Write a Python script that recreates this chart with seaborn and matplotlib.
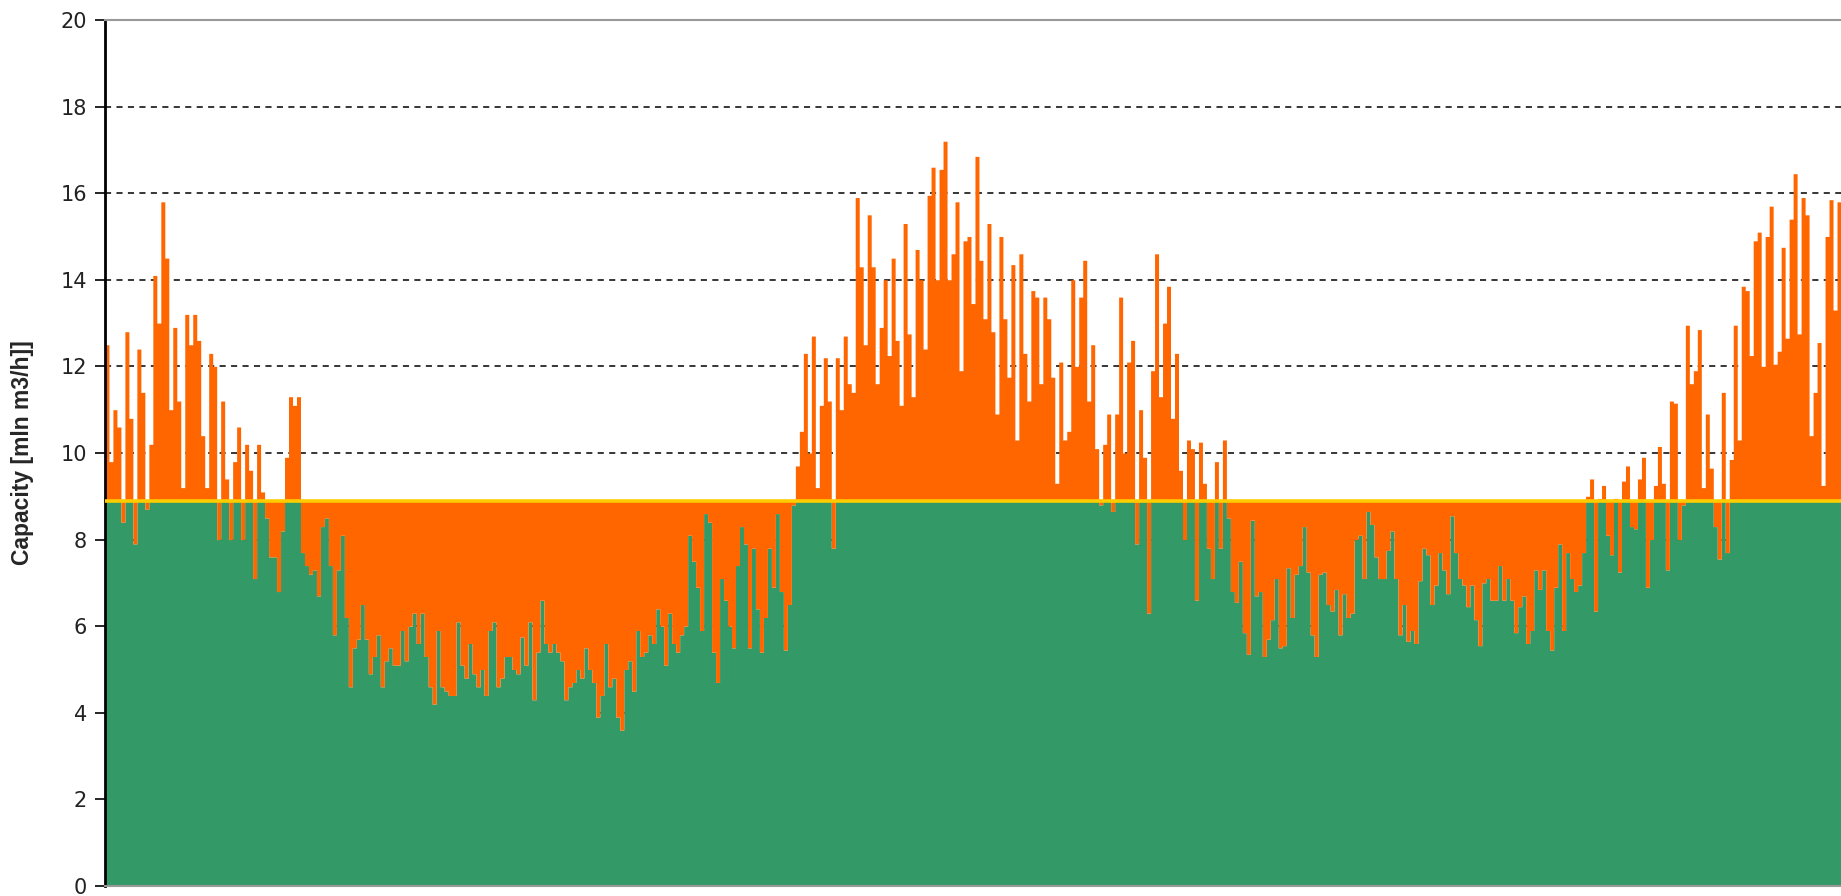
import numpy as np
import pandas as pd
import matplotlib
matplotlib.use("Agg")
import matplotlib.pyplot as plt
import seaborn as sns

# daily flow, in six stretches left to right
flow_part1 = [12.5, 9.8, 11.0, 10.6, 8.4, 12.8, 10.8, 7.9, 12.4, 11.4,
              8.7, 10.2, 14.1, 13.0, 15.8, 14.5, 11.0, 12.9, 11.2, 9.2,
              13.2, 12.5, 13.2, 12.6, 10.4, 9.2, 12.3, 12.0, 8.0, 11.2,
              9.4, 8.0, 9.8, 10.6, 8.0, 10.2, 9.6, 7.1, 10.2, 9.1,
              8.5, 7.6, 7.6, 6.8, 8.2, 9.9, 11.3, 11.1, 11.3, 7.7,
              7.4, 7.2, 7.3, 6.7, 8.3, 8.5, 7.4, 5.8, 7.3, 8.1,
              6.2, 4.6, 5.5, 5.7, 6.5, 5.7, 4.9, 5.3, 5.8, 4.6,
              5.2, 5.5, 5.1]
flow_part2 = [5.1, 5.9, 5.2, 6.0, 6.3, 5.6, 6.3, 5.3, 4.6, 4.2,
              5.9, 4.6, 4.5, 4.4, 4.4, 6.1, 5.1, 4.8, 5.6, 4.9,
              4.6, 5.0, 4.4, 5.9, 6.1, 4.6, 4.8, 5.3, 5.3, 5.0,
              4.9, 5.75, 5.1, 6.1, 4.3, 5.4, 6.6, 5.6, 5.4, 5.6,
              5.4, 5.2, 4.3, 4.6, 4.7, 5.0, 4.8, 5.5, 5.0, 4.7,
              3.9, 4.4, 5.6, 4.6, 4.8, 3.9, 3.6, 5.0, 5.2, 4.5,
              5.9, 5.3, 5.4, 5.8, 5.6, 6.4, 6.0, 5.1, 6.3, 5.6,
              5.4, 5.8]
flow_part3 = [6.0, 8.1, 7.5, 6.9, 5.9, 8.6, 8.4, 5.4, 4.7, 7.1,
              6.6, 6.0, 5.5, 7.4, 8.3, 7.9, 5.5, 7.8, 6.4, 5.4,
              6.2, 7.8, 6.9, 8.6, 6.8, 5.45, 6.5, 8.8, 9.7, 10.5,
              12.3, 10.0, 12.7, 9.2, 11.1, 12.2, 11.2, 7.8, 12.2, 11.0,
              12.7, 11.6, 11.4, 15.9, 14.3, 12.5, 15.5, 14.3, 11.6, 12.9,
              14.0, 12.25, 14.5, 12.6, 11.1, 15.3, 12.75, 11.3, 14.7, 14.0,
              12.4, 15.95, 16.6, 14.0, 16.55, 17.2, 14.0, 14.6, 15.8, 11.9,
              14.9, 15.0]
flow_part4 = [13.45, 16.85, 14.45, 13.1, 15.3, 12.8, 10.9, 15.0, 13.1, 11.75,
              14.35, 10.3, 14.6, 12.3, 11.2, 13.75, 13.6, 11.6, 13.6, 13.1,
              11.75, 9.3, 12.1, 10.3, 10.5, 14.0, 12.0, 13.6, 14.45, 11.2,
              12.5, 10.1, 8.8, 10.2, 10.9, 8.65, 10.9, 13.6, 10.0, 12.1,
              12.6, 7.9, 11.0, 9.9, 6.3, 11.9, 14.6, 11.3, 13.0, 13.85,
              10.8, 12.3, 9.6, 8.0, 10.3, 10.1, 6.6, 10.25, 9.3, 7.8,
              7.1, 9.8, 7.8, 10.3, 8.5, 6.8, 6.55, 7.5, 5.85, 5.35,
              8.45, 6.7, 6.8]
flow_part5 = [5.3, 5.7, 6.15, 7.1, 5.5, 5.55, 7.35, 6.2, 7.2, 7.4,
              8.3, 7.25, 5.8, 5.3, 7.2, 7.25, 6.5, 6.35, 6.85, 5.8,
              6.75, 6.2, 6.3, 8.0, 8.1, 7.1, 8.65, 8.35, 7.6, 7.1,
              7.1, 7.75, 8.2, 7.1, 5.8, 6.5, 5.65, 5.9, 5.6, 7.05,
              7.8, 7.65, 6.5, 6.95, 7.7, 7.3, 6.75, 8.55, 7.7, 7.1,
              6.95, 6.45, 6.95, 6.15, 5.55, 7.0, 7.1, 6.6, 6.6, 7.4,
              6.6, 7.1, 6.6, 5.85, 6.45, 6.7, 5.6, 5.9, 7.3, 6.85,
              7.3, 5.9]
flow_part6 = [5.45, 6.9, 7.9, 5.9, 7.7, 7.1, 6.8, 6.95, 7.7, 9.0,
              9.4, 6.35, 8.95, 9.25, 8.1, 7.65, 8.95, 7.25, 9.35, 9.7,
              8.3, 8.25, 9.4, 9.9, 6.9, 8.0, 9.25, 10.15, 9.3, 7.3,
              11.2, 11.15, 8.0, 8.8, 12.95, 11.6, 11.9, 12.85, 9.2, 10.9,
              9.65, 8.3, 7.55, 11.4, 7.7, 9.85, 12.95, 10.3, 13.85, 13.75,
              12.25, 14.9, 15.1, 12.0, 15.0, 15.7, 12.05, 12.35, 14.75, 12.65,
              15.4, 16.45, 12.75, 15.9, 15.5, 10.4, 11.4, 12.55, 9.25, 15.0,
              15.85, 13.3, 15.8]

capacity = 8.9
y_ticks = [0, 2, 4, 6, 8, 10, 12, 14, 16, 18, 20]
y_label = "Capacity [mln m3/h]]"

flow = np.array(flow_part1 + flow_part2 + flow_part3 +
                flow_part4 + flow_part5 + flow_part6)
n = len(flow)
days = np.arange(n + 1)
flow_step = np.append(flow, flow[-1])  # close the last step

sns.set_style("white")
plt.rcParams['font.family'] = ['DejaVu Sans']

fig = plt.figure(figsize=(18.41, 8.96), dpi=100)
ax = fig.add_axes([0.057, 0.0112, 0.943, 0.9665])

# dashed grid sits behind the fills
for t in y_ticks[1:-1]:
    ax.axhline(t, color='black', linestyle=(0, (4, 3.5)), linewidth=1.1, zorder=0)

# green: up to the flow, capped at the capacity line
ax.fill_between(days, 0, np.minimum(flow_step, capacity), step='post',
                color='#339966', linewidth=0, zorder=2)
# orange: gap between flow and capacity, either side
ax.fill_between(days, flow_step, capacity, step='post',
                color='#FF6600', linewidth=0, zorder=2)

cap_df = pd.DataFrame({'day': [0, n], 'cap': [capacity, capacity]})
sns.lineplot(data=cap_df, x='day', y='cap', color='#FFCC00', linewidth=2.6,
             ax=ax, zorder=3)

ax.set_xlim(0, n)
ax.set_ylim(0, 20)
ax.set_yticks(y_ticks)
ax.set_xticks([])
ax.set_xlabel('')
ax.set_ylabel(y_label, fontsize=16.5, fontweight='bold',
              family=['Liberation Sans', 'DejaVu Sans'], labelpad=19)

ax.tick_params(axis='y', direction='out', length=7, width=1.2, color='black',
               labelsize=15, labelcolor='#222222', pad=6, left=True)
ax.spines['left'].set_color('black')
ax.spines['left'].set_linewidth(2.0)
ax.spines['top'].set_color('#999999')
ax.spines['top'].set_linewidth(1.5)
ax.spines['bottom'].set_color('#999999')
ax.spines['bottom'].set_linewidth(1.5)
ax.spines['right'].set_visible(False)

fig.savefig('out.png', dpi=100)
